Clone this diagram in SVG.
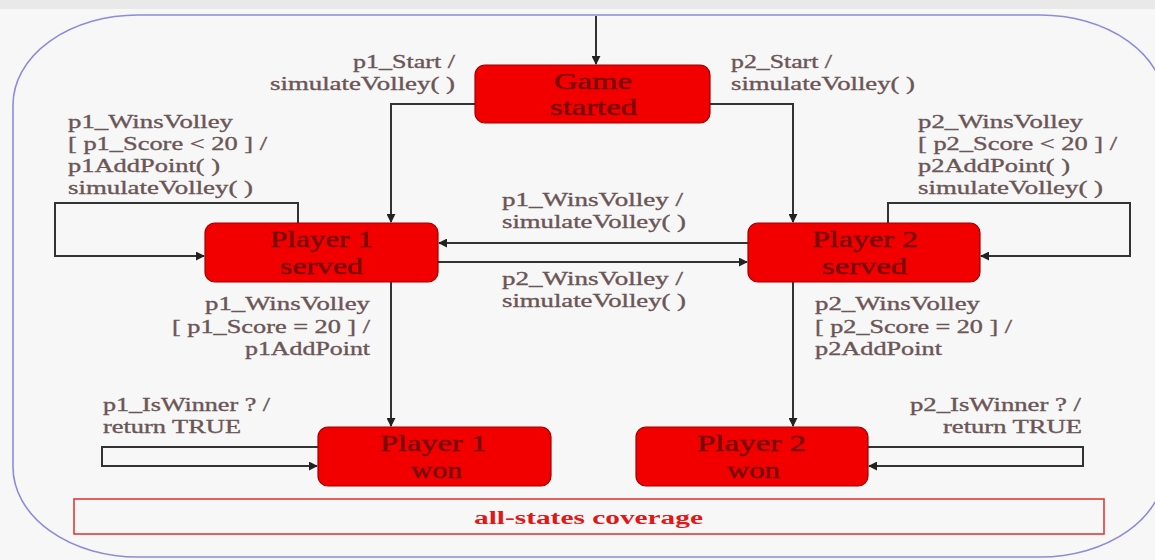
<svg xmlns="http://www.w3.org/2000/svg" width="1155" height="560" viewBox="0 0 1155 560">
  <style>
    .state { fill: #f20000; stroke: #a00000; stroke-width: 1.2; }
    .sname { font-family: "Liberation Serif", "Times New Roman", serif; font-size: 23px; fill: #780a0a; stroke: #780a0a; stroke-width: 0.45; }
    .lbl { font-family: "Liberation Serif", "Times New Roman", serif; font-size: 18.5px; fill: #6b5656; stroke: #6b5656; stroke-width: 0.35; }
    .wire { fill: none; stroke: #333; stroke-width: 2; }
    .cov { font-family: "Liberation Serif", "Times New Roman", serif; font-size: 18px; font-weight: bold; fill: #e01818; }
  </style>
  <defs>
    <marker id="arrow" viewBox="0 0 10 10" refX="9" refY="5" markerWidth="4.5" markerHeight="4.5" orient="auto" markerUnits="strokeWidth">
      <path d="M0,0 L10,5 L0,10 z" fill="#222"/>
    </marker>
  </defs>

  <!-- page -->
  <rect x="0" y="0" width="1155" height="560" fill="#f7f7f7"/>
  <rect x="0" y="0" width="1155" height="9" fill="#e9e9e9"/>

  <!-- enclosing superstate -->
  <rect x="13" y="15" width="1152" height="542" rx="125" ry="90" fill="none" stroke="#8c8cd8" stroke-width="1.6"/>

  <!-- transitions -->
  <g id="connectors" class="wire" marker-end="url(#arrow)">
    <path d="M596,16 V64"/>
    <path d="M475,104 H391 V222"/>
    <path d="M710,104 H793 V222"/>
    <path d="M298,223 V203 H55 V256 H204"/>
    <path d="M888,223 V203 H1130 V256 H981"/>
    <path d="M748,243 H439"/>
    <path d="M438,262 H747"/>
    <path d="M391,282 V426"/>
    <path d="M793,282 V426"/>
    <path d="M318,447 H102 V466 H317"/>
    <path d="M868,447 H1083 V466 H869"/>
  </g>

  <!-- states -->
  <g id="game-started">
    <rect class="state" x="475" y="65" width="235" height="58" rx="10"/>
    <text class="sname" x="554" y="89" textLength="78" lengthAdjust="spacingAndGlyphs">Game</text>
    <text class="sname" x="550" y="115" textLength="87" lengthAdjust="spacingAndGlyphs">started</text>
  </g>
  <g id="player1-served">
    <rect class="state" x="205" y="223" width="233" height="59" rx="10"/>
    <text class="sname" x="270" y="247" textLength="103" lengthAdjust="spacingAndGlyphs">Player 1</text>
    <text class="sname" x="280" y="274" textLength="83" lengthAdjust="spacingAndGlyphs">served</text>
  </g>
  <g id="player2-served">
    <rect class="state" x="748" y="223" width="232" height="59" rx="10"/>
    <text class="sname" x="812" y="247" textLength="106" lengthAdjust="spacingAndGlyphs">Player 2</text>
    <text class="sname" x="822" y="274" textLength="85" lengthAdjust="spacingAndGlyphs">served</text>
  </g>
  <g id="player1-won">
    <rect class="state" x="318" y="427" width="233" height="59" rx="10"/>
    <text class="sname" x="380" y="451" textLength="107" lengthAdjust="spacingAndGlyphs">Player 1</text>
    <text class="sname" x="411" y="478" textLength="51" lengthAdjust="spacingAndGlyphs">won</text>
  </g>
  <g id="player2-won">
    <rect class="state" x="636" y="427" width="232" height="59" rx="10"/>
    <text class="sname" x="697" y="451" textLength="109" lengthAdjust="spacingAndGlyphs">Player 2</text>
    <text class="sname" x="727" y="478" textLength="53" lengthAdjust="spacingAndGlyphs">won</text>
  </g>

  <!-- transition labels -->
  <g id="labels" class="lbl">
    <text x="353" y="68" textLength="102" lengthAdjust="spacingAndGlyphs">p1_Start /</text>
    <text x="270" y="90" textLength="185" lengthAdjust="spacingAndGlyphs">simulateVolley( )</text>
    <text x="731" y="68" textLength="101" lengthAdjust="spacingAndGlyphs">p2_Start /</text>
    <text x="731" y="90" textLength="184" lengthAdjust="spacingAndGlyphs">simulateVolley( )</text>

    <text x="68" y="128" textLength="165" lengthAdjust="spacingAndGlyphs">p1_WinsVolley</text>
    <text x="68" y="150" textLength="199" lengthAdjust="spacingAndGlyphs">[ p1_Score &lt; 20 ] /</text>
    <text x="68" y="172" textLength="152" lengthAdjust="spacingAndGlyphs">p1AddPoint( )</text>
    <text x="68" y="194" textLength="185" lengthAdjust="spacingAndGlyphs">simulateVolley( )</text>

    <text x="918" y="128" textLength="165" lengthAdjust="spacingAndGlyphs">p2_WinsVolley</text>
    <text x="918" y="150" textLength="199" lengthAdjust="spacingAndGlyphs">[ p2_Score &lt; 20 ] /</text>
    <text x="918" y="172" textLength="152" lengthAdjust="spacingAndGlyphs">p2AddPoint( )</text>
    <text x="918" y="194" textLength="185" lengthAdjust="spacingAndGlyphs">simulateVolley( )</text>

    <text x="502" y="206" textLength="181" lengthAdjust="spacingAndGlyphs">p1_WinsVolley /</text>
    <text x="502" y="228" textLength="184" lengthAdjust="spacingAndGlyphs">simulateVolley( )</text>
    <text x="502" y="285" textLength="181" lengthAdjust="spacingAndGlyphs">p2_WinsVolley /</text>
    <text x="502" y="307" textLength="184" lengthAdjust="spacingAndGlyphs">simulateVolley( )</text>

    <text x="205" y="310" textLength="165" lengthAdjust="spacingAndGlyphs">p1_WinsVolley</text>
    <text x="172" y="333" textLength="198" lengthAdjust="spacingAndGlyphs">[ p1_Score = 20 ] /</text>
    <text x="245" y="355" textLength="125" lengthAdjust="spacingAndGlyphs">p1AddPoint</text>

    <text x="815" y="310" textLength="165" lengthAdjust="spacingAndGlyphs">p2_WinsVolley</text>
    <text x="815" y="333" textLength="197" lengthAdjust="spacingAndGlyphs">[ p2_Score = 20 ] /</text>
    <text x="815" y="355" textLength="127" lengthAdjust="spacingAndGlyphs">p2AddPoint</text>

    <text x="103" y="411" textLength="167" lengthAdjust="spacingAndGlyphs">p1_IsWinner ? /</text>
    <text x="103" y="433" textLength="138" lengthAdjust="spacingAndGlyphs">return TRUE</text>
    <text x="910" y="411" textLength="171" lengthAdjust="spacingAndGlyphs">p2_IsWinner ? /</text>
    <text x="943" y="433" textLength="139" lengthAdjust="spacingAndGlyphs">return TRUE</text>
  </g>

  <!-- coverage note -->
  <g id="coverage-note">
    <rect x="74" y="499" width="1030" height="35" fill="none" stroke="#e03a3a" stroke-width="1.6"/>
    <text class="cov" x="474" y="524" textLength="229" lengthAdjust="spacingAndGlyphs">all-states coverage</text>
  </g>
</svg>
